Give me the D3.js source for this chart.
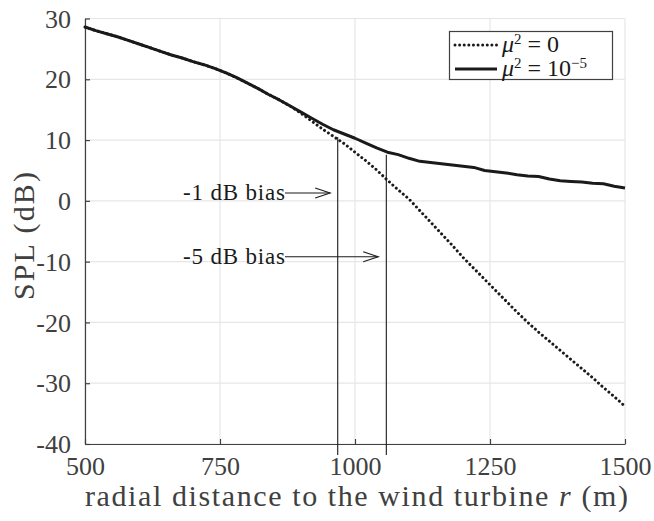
<!DOCTYPE html>
<html>
<head>
<meta charset="utf-8">
<script src="https://cdn.jsdelivr.net/npm/d3@7"></script>
<style>
  body { margin: 0; background: #fff; }
  svg text { font-family: "Liberation Serif", serif; }
</style>
</head>
<body>
<div id="chart"></div>
<script>
// distances (m) and SPL (dB)
var distance = [500, 520, 540, 560, 580, 600, 620, 640, 660, 680, 700, 720, 740, 760, 780,
                800, 820, 840, 860, 880, 900, 920, 940, 960, 980, 1000, 1020, 1040, 1060,
                1080, 1100, 1120, 1140, 1160, 1180, 1200, 1220, 1240, 1260, 1280, 1300,
                1320, 1340, 1360, 1380, 1400, 1420, 1440, 1460, 1480, 1500];

// mu^2 = 0 (dotted)
var splNoTurb = [28.6, 28.0, 27.5, 27.0, 26.4, 25.8, 25.2, 24.6, 24.0, 23.5, 22.9, 22.4, 21.8,
                 21.1, 20.3, 19.4, 18.5, 17.5, 16.6, 15.6, 14.4, 13.1, 11.8, 10.6, 9.4, 8.0,
                 6.6, 5.1, 3.4, 1.8, 0.3, -1.6, -3.5, -5.4, -7.3, -9.3, -11.1, -12.9, -14.7,
                 -16.5, -18.3, -20.0, -21.6, -23.1, -24.6, -26.1, -27.6, -29.1, -30.7, -32.2, -33.8];

// mu^2 = 1e-5 (solid)
var splTurb = [28.6, 28.0, 27.5, 27.0, 26.4, 25.8, 25.2, 24.6, 24.0, 23.5, 22.9, 22.4, 21.8,
               21.1, 20.3, 19.4, 18.5, 17.5, 16.6, 15.6, 14.6, 13.6, 12.6, 11.7, 11.0, 10.3,
               9.5, 8.7, 8.0, 7.6, 7.0, 6.5, 6.3, 6.1, 5.9, 5.7, 5.5, 5.0, 4.8, 4.6, 4.3,
               4.1, 4.0, 3.6, 3.3, 3.2, 3.1, 2.9, 2.8, 2.4, 2.1];

var xTicks = [500, 750, 1000, 1250, 1500];
var yTicks = [30, 20, 10, 0, -10, -20, -30, -40];

// bias markers
var biasLabels = ["-1 dB bias", "-5 dB bias"];
var biasR = [968, 1058];
var biasTop = [10.5, 7.6];
var biasBottom = -41.8;
var arrowTipR = [954, 1043];
var arrowY = [1.3, -9.2];

var W = 654, H = 521;
var margin = {top: 18.5, bottom: 77, left: 85, right: 29};

var svg = d3.select("#chart").append("svg")
    .attr("width", W)
    .attr("height", H);

var xScale = d3.scaleLinear().domain([500, 1500]).range([margin.left, W - margin.right]);
var yScale = d3.scaleLinear().domain([-40, 30]).range([H - margin.bottom, margin.top]);

var ink = "#1a1a1a";
var gray = "#404040";

// grid
svg.append("g").selectAll("line").data(xTicks).enter().append("line")
    .attr("x1", d => xScale(d)).attr("x2", d => xScale(d))
    .attr("y1", yScale(-40)).attr("y2", yScale(30))
    .attr("stroke", "#e6e6e6").attr("stroke-width", 1.2);
svg.append("g").selectAll("line").data(yTicks).enter().append("line")
    .attr("y1", d => yScale(d)).attr("y2", d => yScale(d))
    .attr("x1", xScale(500)).attr("x2", xScale(1500))
    .attr("stroke", "#e6e6e6").attr("stroke-width", 1.2);

// axes: ticks drawn inward
var xAxis = d3.axisBottom(xScale).tickValues(xTicks).tickSizeInner(-5).tickSizeOuter(0)
    .tickFormat(d3.format("d")).tickPadding(12);
var yAxis = d3.axisLeft(yScale).tickValues(yTicks).tickSizeInner(-5).tickSizeOuter(0)
    .tickFormat(d => d < 0 ? "-" + Math.abs(d) : d).tickPadding(14);

var gx = svg.append("g")
    .attr("transform", "translate(0," + yScale(-40) + ")")
    .call(xAxis);
var gy = svg.append("g")
    .attr("transform", "translate(" + xScale(500) + ",0)")
    .call(yAxis);

[gx, gy].forEach(function(g) {
    g.select(".domain").attr("stroke", gray).attr("stroke-width", 1.2);
    g.selectAll(".tick line").attr("stroke", gray).attr("stroke-width", 1.2);
    g.selectAll(".tick text")
        .attr("fill", gray)
        .style("font-size", "26px")
        .style("font-family", "'Liberation Serif', serif");
});
gx.selectAll(".tick text").attr("dy", "0.72em");
gy.selectAll(".tick text").attr("dy", "0.33em");

// curves
var line = d3.line()
    .x((d, i) => xScale(distance[i]))
    .y(d => yScale(d));

svg.append("path")
    .datum(splTurb)
    .attr("d", line)
    .attr("fill", "none")
    .attr("stroke", ink)
    .attr("stroke-width", 3)
    .attr("stroke-linejoin", "round");

svg.append("path")
    .datum(splNoTurb)
    .attr("d", line)
    .attr("fill", "none")
    .attr("stroke", ink)
    .attr("stroke-width", 3)
    .attr("stroke-linecap", "round")
    .attr("stroke-dasharray", "0.01 4.6");

// bias verticals
svg.selectAll("line.bias").data(biasR).enter().append("line")
    .attr("class", "bias")
    .attr("x1", d => xScale(d)).attr("x2", d => xScale(d))
    .attr("y1", (d, i) => yScale(biasTop[i]))
    .attr("y2", yScale(biasBottom))
    .attr("stroke", ink).attr("stroke-width", 1.1);

// arrows with labels
var labelEnd = 285;
biasLabels.forEach(function(lab, i) {
    var y = yScale(arrowY[i]);
    var tip = xScale(arrowTipR[i]);
    svg.append("text")
        .attr("x", labelEnd - 102)
        .attr("y", y)
        .attr("dy", "0.3em")
        .attr("textLength", 102)
        .attr("lengthAdjust", "spacing")
        .attr("fill", ink)
        .style("font-size", "23px")
        .text(lab);
    svg.append("line")
        .attr("x1", labelEnd).attr("x2", tip)
        .attr("y1", y).attr("y2", y)
        .attr("stroke", ink).attr("stroke-width", 1.1);
    svg.append("path")
        .attr("d", "M" + (tip - 15) + "," + (y - 5) + "L" + tip + "," + y + "L" + (tip - 15) + "," + (y + 5))
        .attr("fill", "none")
        .attr("stroke", ink).attr("stroke-width", 1.1);
});

// legend
var legend = svg.append("g");
legend.append("rect")
    .attr("x", 449.5).attr("y", 31.5)
    .attr("width", 163).attr("height", 48)
    .attr("fill", "#fff")
    .attr("stroke", gray).attr("stroke-width", 1.2);

var legendRows = [
    {dash: "0.01 4.6", exp: null, rhs: "0"},
    {dash: null, exp: "\u22125", rhs: "10"}
];
legendRows.forEach(function(r, i) {
    var y = 45 + i * 24;
    var ln = legend.append("line")
        .attr("x1", 455).attr("x2", 497)
        .attr("y1", y).attr("y2", y)
        .attr("stroke", ink).attr("stroke-width", 3)
        .attr("stroke-linecap", r.dash ? "round" : "butt");
    if (r.dash) ln.attr("stroke-dasharray", r.dash);

    var t = legend.append("text")
        .attr("x", 502).attr("y", y + 7)
        .attr("fill", ink)
        .style("font-size", "24px");
    t.append("tspan").style("font-style", "italic").text("\u03bc");
    t.append("tspan").attr("dy", -8).style("font-size", "15px").text("2");
    t.append("tspan").attr("dy", 8).text(" = " + r.rhs);
    if (r.exp) {
        t.append("tspan").attr("dy", -8).style("font-size", "15px").text(r.exp);
    }
});

// axis titles
var xt = svg.append("text")
    .attr("x", xScale(500))
    .attr("y", 506)
    .attr("textLength", 543)
    .attr("lengthAdjust", "spacing")
    .attr("fill", gray)
    .style("font-size", "30px");
xt.append("tspan").text("radial distance to the wind turbine ");
xt.append("tspan").style("font-style", "italic").text("r");
xt.append("tspan").text(" (m)");

svg.append("text")
    .attr("transform", "translate(34,300) rotate(-90)")
    .attr("textLength", 128)
    .attr("lengthAdjust", "spacing")
    .attr("fill", gray)
    .style("font-size", "30px")
    .text("SPL (dB)");
</script>
</body>
</html>
